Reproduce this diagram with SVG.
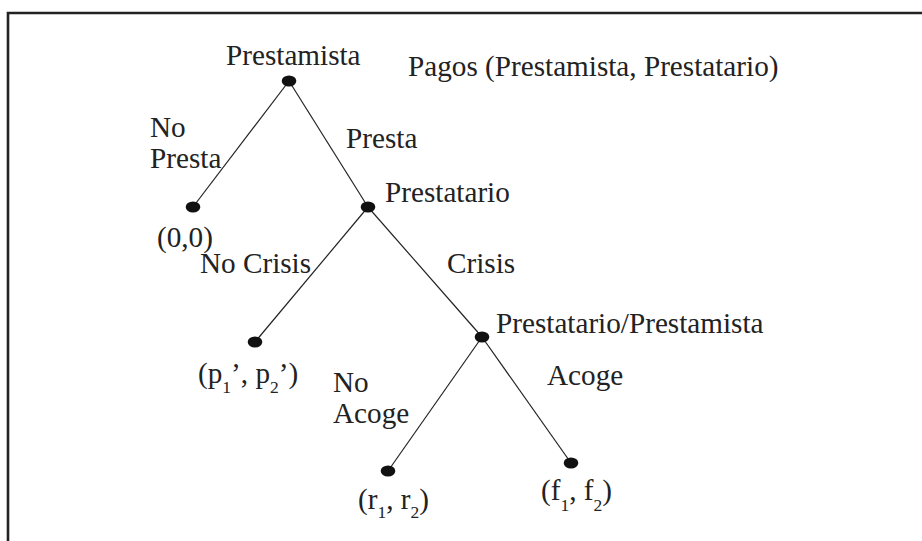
<svg xmlns="http://www.w3.org/2000/svg" width="922" height="541" viewBox="0 0 922 541">
<style>
text{font-family:'Liberation Serif','Times New Roman',serif;font-size:29.2px;fill:#222}
.sub{font-size:17.5px}
.edge{stroke:#222;stroke-width:1.2;fill:none}
.dot{fill:#111}
.frame{stroke:#222;stroke-width:2.6;fill:none}
</style>
<rect width="922" height="541" fill="#fff"/>
<path class="frame" d="M8,541 V13 H922"/>
<g id="connectors">
<line class="edge" x1="289" y1="81" x2="193" y2="207"/>
<line class="edge" x1="289" y1="81" x2="368" y2="207"/>
<line class="edge" x1="368" y1="207" x2="255" y2="342"/>
<line class="edge" x1="368" y1="207" x2="482" y2="337"/>
<line class="edge" x1="482" y1="337" x2="388" y2="471"/>
<line class="edge" x1="482" y1="337" x2="571" y2="463"/>
<text x="150" y="137">No</text>
<text x="150" y="168">Presta</text>
<text x="346" y="148">Presta</text>
<text x="200" y="273">No Crisis</text>
<text x="447" y="273">Crisis</text>
<text x="333" y="392">No</text>
<text x="333" y="423">Acoge</text>
<text x="547" y="385">Acoge</text>
</g>
<g id="title"><text x="408" y="76">Pagos (Prestamista, Prestatario)</text></g>
<g id="n-prestamista">
<ellipse class="dot" cx="289" cy="81" rx="7.3" ry="5.5"/>
<text x="226" y="65">Prestamista</text>
</g>
<g id="n-nopresta">
<ellipse class="dot" cx="193" cy="207" rx="7.3" ry="5.5"/>
<text x="157" y="247">(0,0)</text>
</g>
<g id="n-prestatario">
<ellipse class="dot" cx="368" cy="207" rx="7.3" ry="5.5"/>
<text x="385" y="202">Prestatario</text>
</g>
<g id="n-nocrisis">
<ellipse class="dot" cx="255" cy="342" rx="7.3" ry="5.5"/>
<text x="198" y="383">(p<tspan class="sub" dy="9.5">1</tspan><tspan dy="-9.5">’, p</tspan><tspan class="sub" dy="9.5">2</tspan><tspan dy="-9.5">’)</tspan></text>
</g>
<g id="n-prestatario-prestamista">
<ellipse class="dot" cx="482" cy="337" rx="7.3" ry="5.5"/>
<text x="496" y="333">Prestatario/Prestamista</text>
</g>
<g id="n-noacoge">
<ellipse class="dot" cx="388" cy="471" rx="7.3" ry="5.5"/>
<text x="358" y="509">(r<tspan class="sub" dy="9">1</tspan><tspan dy="-9">, r</tspan><tspan class="sub" dy="9">2</tspan><tspan dy="-9">)</tspan></text>
</g>
<g id="n-acoge">
<ellipse class="dot" cx="571" cy="463" rx="7.3" ry="5.5"/>
<text x="541" y="500">(f<tspan class="sub" dy="11">1</tspan><tspan dy="-11">, f</tspan><tspan class="sub" dy="11">2</tspan><tspan dy="-11">)</tspan></text>
</g>
</svg>
